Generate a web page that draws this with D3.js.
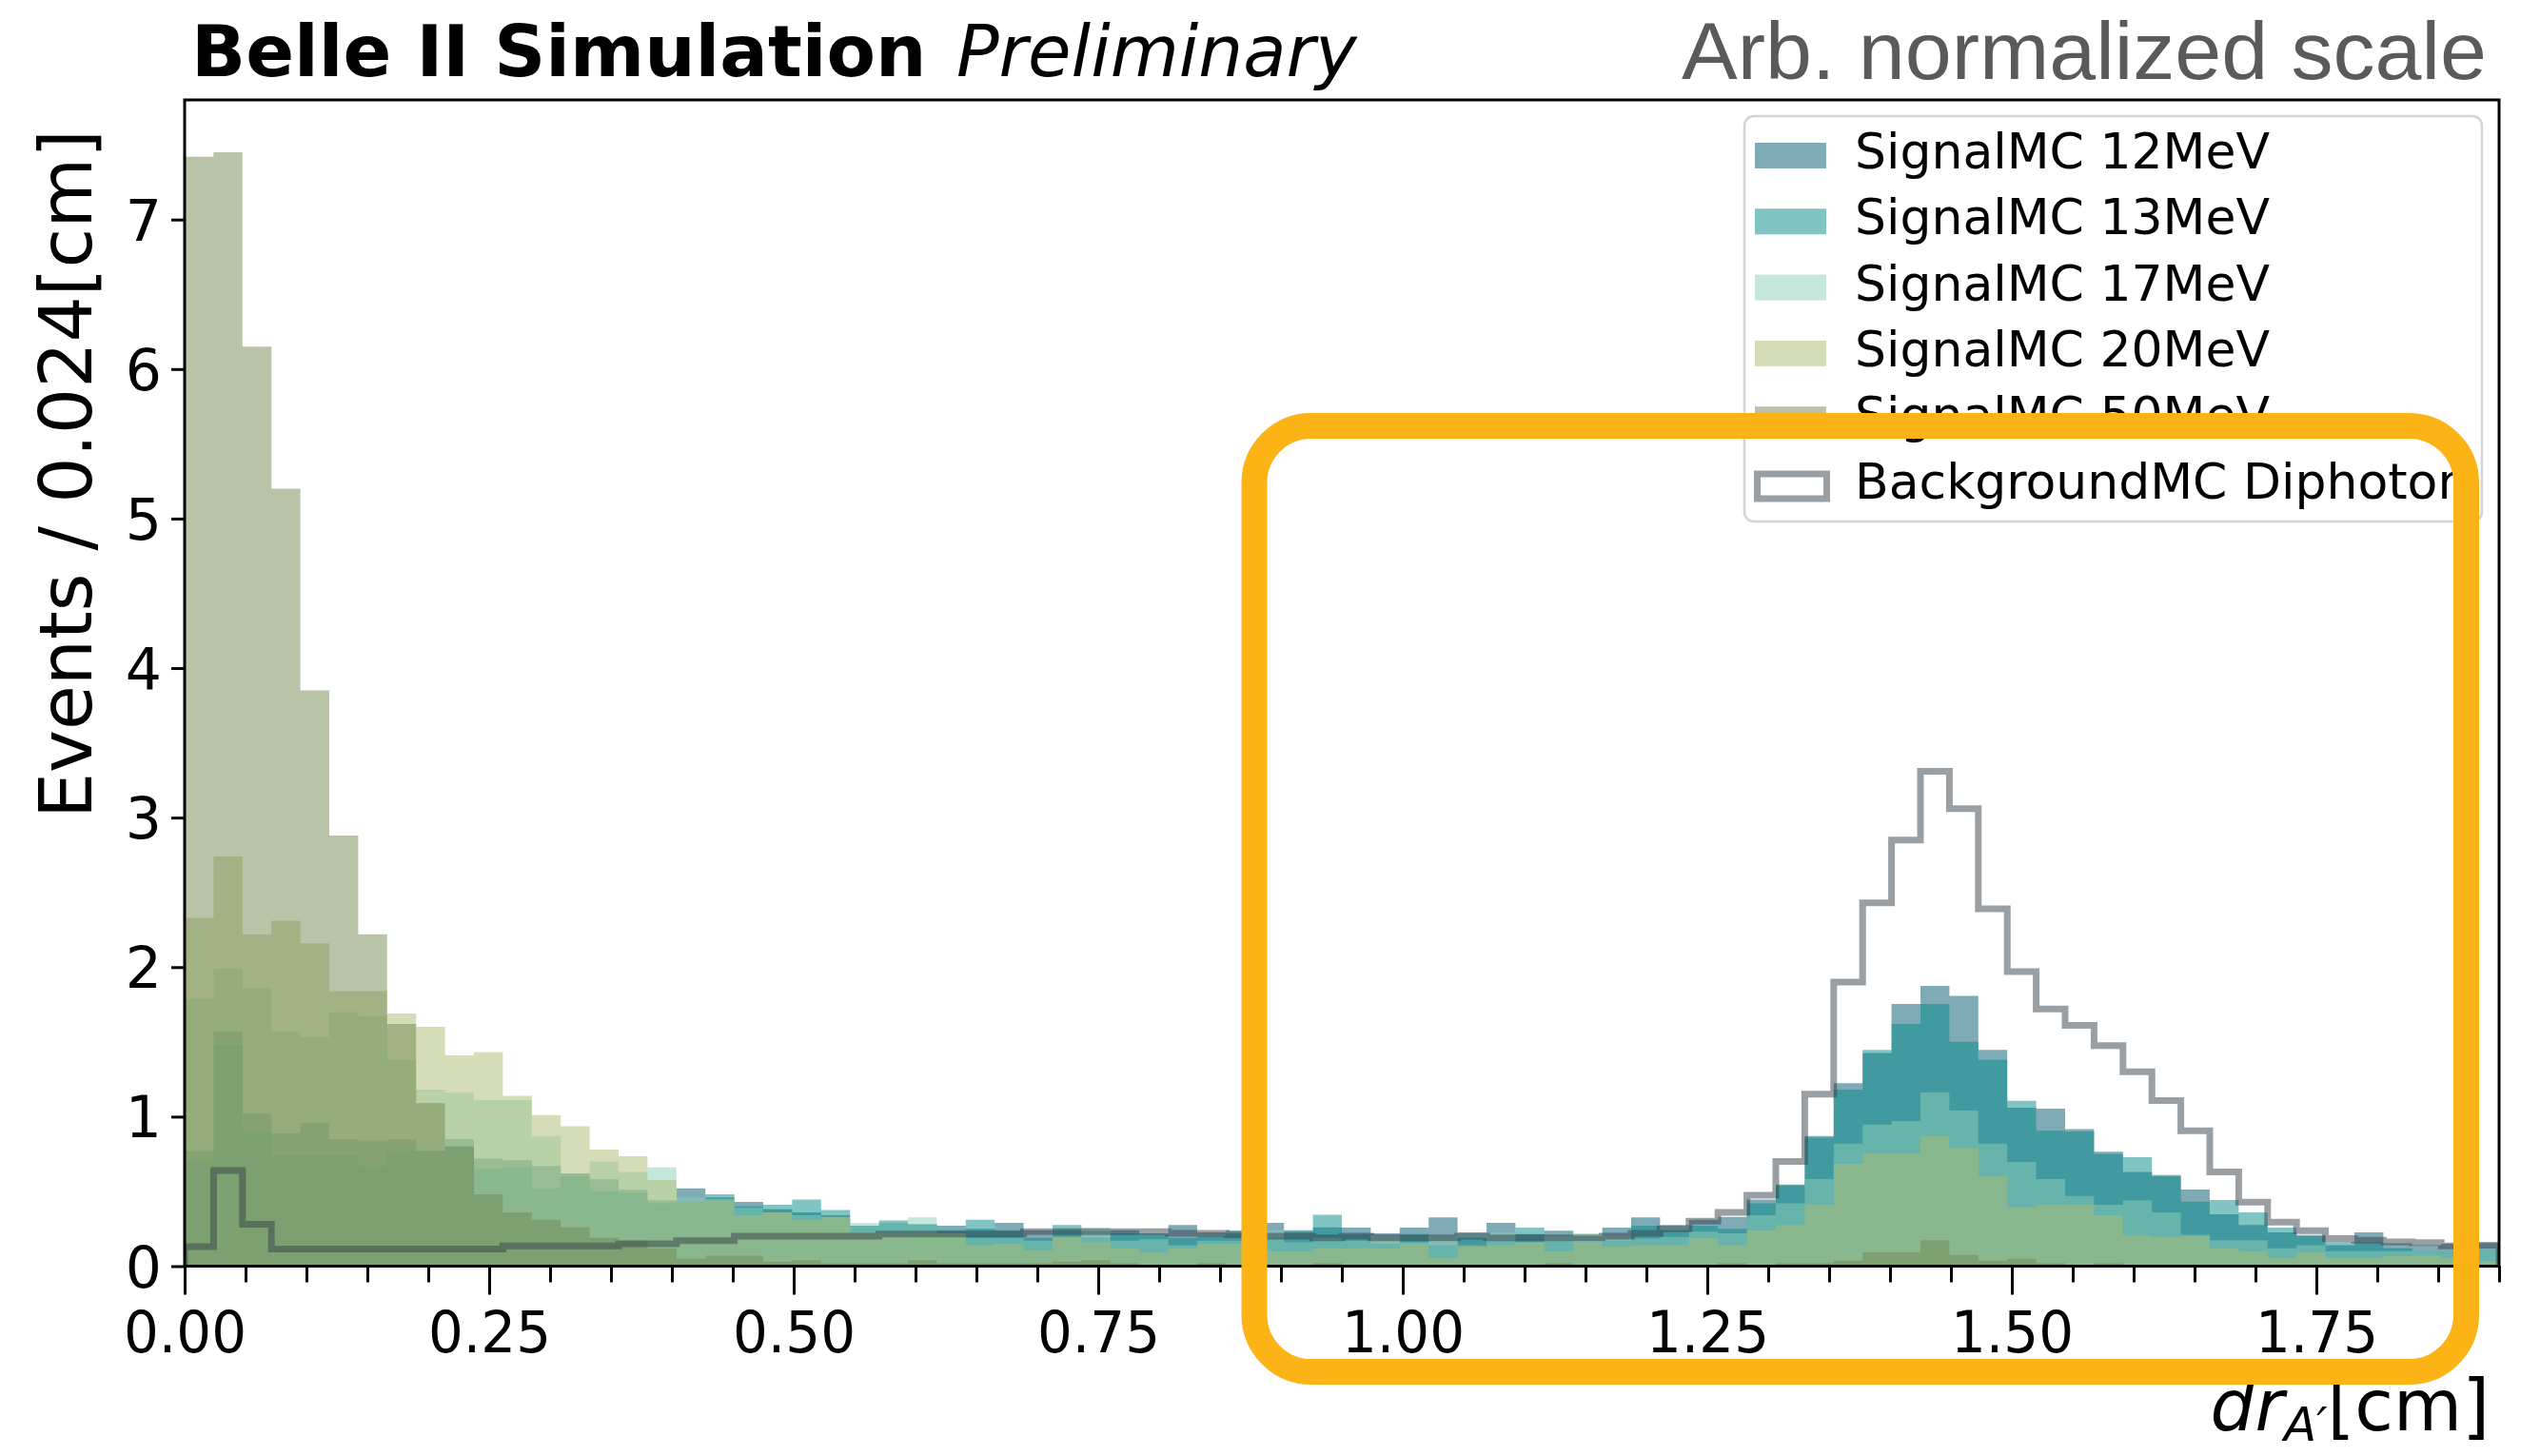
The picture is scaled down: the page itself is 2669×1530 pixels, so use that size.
<!DOCTYPE html>
<html>
<head>
<meta charset="utf-8">
<script src="https://cdn.jsdelivr.net/npm/d3@7"></script>
<style>
  html, body { margin: 0; padding: 0; background: #ffffff; }
  svg { display: block; }
</style>
</head>
<body>
<svg id="chart" width="2669" height="1530"></svg>
<script>
// Binning of the displacement histogram: 80 bins over [0, 1.9] cm
const binLo = 0;
const binHi = 1.9;
const nBins = 80;

// Normalised bin contents, one array per sample (80 bins each)
const sig12 = [
  0.77, 1.57, 1.02, 0.89, 0.96, 0.85, 0.84, 0.85, 0.77, 0.85, 0.72, 0.71, 0.67, 0.62, 0.58, 0.51, 0.44,
  0.52, 0.46, 0.43, 0.38, 0.36, 0.34, 0.27, 0.29, 0.28, 0.27, 0.25, 0.29, 0.24, 0.24, 0.235, 0.24, 0.22,
  0.275, 0.226, 0.22, 0.29, 0.24, 0.26, 0.258, 0.22, 0.258, 0.326, 0.19, 0.29, 0.215, 0.237, 0.20, 0.258, 0.326,
  0.24, 0.31, 0.33, 0.446, 0.545, 0.87, 1.224, 1.425, 1.754, 1.875, 1.807, 1.447, 1.06, 1.054, 0.917, 0.765,
  0.63, 0.61, 0.513, 0.347, 0.275, 0.226, 0.209, 0.14, 0.226, 0.152, 0.14, 0.15, 0.155
];
const sig13 = [
  0.70, 1.48, 0.90, 0.74, 0.74, 0.74, 0.67, 0.77, 0.77, 0.80, 0.65, 0.66, 0.52, 0.60, 0.50, 0.49, 0.42,
  0.43, 0.48, 0.40, 0.41, 0.445, 0.375, 0.27, 0.305, 0.28, 0.24, 0.31, 0.24, 0.19, 0.275, 0.19, 0.22, 0.21,
  0.19, 0.20, 0.24, 0.19, 0.23, 0.343, 0.215, 0.15, 0.215, 0.14, 0.226, 0.17, 0.258, 0.17, 0.16, 0.17, 0.27,
  0.276, 0.27, 0.25, 0.42, 0.54, 0.86, 1.18, 1.447, 1.62, 1.754, 1.50, 1.38, 1.106, 0.906, 0.90, 0.75,
  0.729, 0.60, 0.432, 0.443, 0.36, 0.258, 0.20, 0.163, 0.16, 0.12, 0.10, 0.10, 0.11
];
const sig17 = [
  1.79, 1.99, 1.86, 1.57, 1.53, 1.70, 1.67, 1.38, 1.18, 1.16, 1.11, 1.11, 0.87, 0.62, 0.70, 0.63, 0.66,
  0.46, 0.45, 0.39, 0.36, 0.34, 0.33, 0.29, 0.29, 0.326, 0.22, 0.19, 0.19, 0.17, 0.195, 0.258, 0.17, 0.18,
  0.14, 0.17, 0.17, 0.24, 0.16, 0.19, 0.17, 0.20, 0.16, 0.205, 0.13, 0.226, 0.16, 0.20, 0.22, 0.20, 0.185,
  0.196, 0.23, 0.22, 0.34, 0.42, 0.583, 0.82, 0.947, 0.97, 1.163, 1.04, 0.82, 0.697, 0.583, 0.47, 0.41,
  0.44, 0.36, 0.21, 0.173, 0.173, 0.12, 0.14, 0.10, 0.10, 0.10, 0.10, 0.10, 0.11
];
const sig20 = [
  2.33, 2.74, 2.22, 2.31, 2.16, 1.84, 1.84, 1.69, 1.60, 1.41, 1.43, 1.14, 1.01, 0.935, 0.78, 0.735, 0.576,
  0.43, 0.44, 0.34, 0.36, 0.31, 0.33, 0.22, 0.215, 0.22, 0.22, 0.14, 0.15, 0.105, 0.195, 0.16, 0.12, 0.09,
  0.12, 0.15, 0.15, 0.10, 0.10, 0.12, 0.12, 0.12, 0.15, 0.056, 0.14, 0.14, 0.16, 0.10, 0.16, 0.13, 0.14,
  0.14, 0.19, 0.14, 0.24, 0.276, 0.41, 0.685, 0.753, 0.753, 0.87, 0.79, 0.60, 0.394, 0.412, 0.41, 0.34,
  0.205, 0.195, 0.20, 0.12, 0.10, 0.056, 0.09, 0.056, 0.056, 0.067, 0.07, 0.056, 0.035
];
const sig50 = [
  7.42, 7.45, 6.15, 5.20, 3.85, 2.88, 2.22, 1.62, 1.09, 0.80, 0.48, 0.36, 0.31, 0.26, 0.19, 0.17, 0.12,
  0.05, 0.07, 0.07, 0.03, 0.04, 0.02, 0.02, 0.02, 0.04, 0.02, 0.02, 0.02, 0.02, 0.03, 0.04, 0.02, 0.01,
  0.01, 0.02, 0.01, 0.01, 0.01, 0.02, 0.01, 0.01, 0.01, 0.01, 0.01, 0.01, 0.01, 0.02, 0.01, 0.01, 0.01,
  0.01, 0.01, 0.02, 0.01, 0.02, 0.02, 0.037, 0.094, 0.094, 0.173, 0.075, 0.037, 0.05, 0.02, 0.01, 0.02,
  0.01, 0.01, 0.01, 0.005, 0.005, 0.005, 0.005, 0.005, 0.005, 0.005, 0.005, 0.005, 0.005
];
const bkgDiphoton = [
  0.13, 0.64, 0.28, 0.115, 0.115, 0.115, 0.115, 0.115, 0.115, 0.115, 0.115, 0.135, 0.135, 0.135, 0.135, 0.15, 0.15,
  0.17, 0.17, 0.20, 0.20, 0.20, 0.20, 0.20, 0.215, 0.215, 0.215, 0.215, 0.215, 0.23, 0.23, 0.23, 0.23, 0.23,
  0.22, 0.22, 0.21, 0.20, 0.20, 0.19, 0.20, 0.19, 0.19, 0.19, 0.20, 0.19, 0.19, 0.19, 0.19, 0.20, 0.22,
  0.25, 0.30, 0.36, 0.474, 0.70, 1.15, 1.90, 2.43, 2.85, 3.31, 3.06, 2.39, 1.97, 1.72, 1.61, 1.475,
  1.30, 1.107, 0.905, 0.63, 0.428, 0.294, 0.237, 0.184, 0.173, 0.162, 0.158, 0.135, 0.14
];

const signalLabels = ["SignalMC 12MeV", "SignalMC 13MeV", "SignalMC 17MeV", "SignalMC 20MeV", "SignalMC 50MeV"];
const backgroundLabel = "BackgroundMC Diphoton";
const xMajorTicks = [0, 0.25, 0.5, 0.75, 1.0, 1.25, 1.5, 1.75];
const yMajorTicks = [0, 1, 2, 3, 4, 5, 6, 7];

// ---- styling ----
const signalColors = ["#00586f", "#028989", "#8bcdb5", "#abbb71", "#718751"];
const fillAlpha = 0.5;
const lineColor = "#363f48";
const lineAlpha = 0.5;
const font = "'DejaVu Sans', Verdana, sans-serif";

const plot = { left: 194, right: 2626, top: 105, bottom: 1330.5 };

const svg = d3.select("#chart");

const x = d3.scaleLinear().domain([binLo, binHi]).range([plot.left, plot.right]);
const y = d3.scaleLinear().domain([0, 7.8]).range([plot.bottom, plot.top]);

const edges = d3.range(nBins + 1).map(i => binLo + i * (binHi - binLo) / nBins);
function stepPoints(vals) {
  const pts = [];
  vals.forEach((v, i) => { pts.push([edges[i], v]); pts.push([edges[i + 1], v]); });
  return pts;
}

svg.append("defs").append("clipPath").attr("id", "plotClip")
  .append("rect")
  .attr("x", plot.left).attr("y", plot.top)
  .attr("width", plot.right - plot.left).attr("height", plot.bottom - plot.top);

const area = d3.area()
  .x(d => x(d[0]))
  .y0(y(0))
  .y1(d => y(d[1]));

const histLayer = svg.append("g").attr("clip-path", "url(#plotClip)");

// filled signal histograms, drawn in legend order with half transparency
[sig12, sig13, sig17, sig20, sig50].forEach((vals, k) => {
  histLayer.append("path")
    .attr("d", area(stepPoints(vals)))
    .attr("fill", signalColors[k])
    .attr("fill-opacity", fillAlpha);
});

// background outline histogram
const line = d3.line().x(d => x(d[0])).y(d => y(d[1]));
const bkgPts = [[binLo, 0], ...stepPoints(bkgDiphoton), [binHi, 0]];
histLayer.append("path")
  .attr("d", line(bkgPts))
  .attr("fill", "none")
  .attr("stroke", lineColor)
  .attr("stroke-opacity", lineAlpha)
  .attr("stroke-width", 7)
  .attr("stroke-linejoin", "miter");

// ---- axes ----
const xMinorTicks = d3.range(0, 1.9001, 0.05).filter(v => !xMajorTicks.some(t => Math.abs(t - v) < 1e-6));

const xMinor = svg.append("g")
  .attr("transform", `translate(0,${plot.bottom})`)
  .call(d3.axisBottom(x).tickValues(xMinorTicks).tickSize(17).tickFormat(""));
xMinor.select(".domain").remove();
xMinor.selectAll(".tick line").attr("stroke", "#000").attr("stroke-width", 3);

const xAxis = svg.append("g")
  .attr("transform", `translate(0,${plot.bottom})`)
  .call(d3.axisBottom(x).tickValues(xMajorTicks).tickSize(30).tickFormat(d3.format(".2f")));
xAxis.select(".domain").remove();
xAxis.selectAll(".tick line").attr("stroke", "#000").attr("stroke-width", 3);
xAxis.selectAll(".tick text")
  .attr("y", 91).attr("dy", 0)
  .attr("transform", "scale(0.95,1)")
  .attr("fill", "#000")
  .style("font-family", font).style("font-size", "61px");

const yAxis = svg.append("g")
  .attr("transform", `translate(${plot.left},0)`)
  .call(d3.axisLeft(y).tickValues(yMajorTicks).tickSize(14).tickPadding(10).tickFormat(d3.format("d")));
yAxis.select(".domain").remove();
yAxis.selectAll(".tick line").attr("stroke", "#000").attr("stroke-width", 3);
yAxis.selectAll(".tick text")
  .attr("dy", "0.36em")
  .attr("fill", "#000")
  .style("font-family", font).style("font-size", "60px");

// frame
svg.append("rect")
  .attr("x", plot.left).attr("y", plot.top)
  .attr("width", plot.right - plot.left).attr("height", plot.bottom - plot.top)
  .attr("fill", "none").attr("stroke", "#000").attr("stroke-width", 3);

// ---- axis titles ----
svg.append("text")
  .attr("transform", `translate(96,136) rotate(-90)`)
  .attr("text-anchor", "end")
  .style("font-family", font).style("font-size", "76px")
  .attr("fill", "#000")
  .text("Events / 0.024[cm]");

const xl = svg.append("text")
  .attr("x", 2616).attr("y", 1503)
  .attr("text-anchor", "end")
  .style("font-family", font).style("font-size", "74px")
  .attr("fill", "#000");
xl.append("tspan").style("font-style", "italic").text("dr");
xl.append("tspan").style("font-style", "italic").style("font-size", "50px").attr("dy", 11).text("A\u2032");
xl.append("tspan").attr("dy", -11).text("[cm]");

// ---- header ----
svg.append("text")
  .attr("x", 201).attr("y", 80)
  .style("font-family", font).style("font-size", "75px").style("font-weight", "bold")
  .attr("fill", "#000")
  .text("Belle II Simulation");
svg.append("text")
  .attr("x", 1005).attr("y", 80)
  .style("font-family", font).style("font-size", "74px").style("font-style", "italic")
  .attr("fill", "#000")
  .text("Preliminary");

svg.append("text")
  .attr("x", 2613).attr("y", 83)
  .attr("text-anchor", "end")
  .style("font-family", "'Liberation Sans', Arial, Helvetica, sans-serif").style("font-size", "86px")
  .attr("textLength", 846).attr("lengthAdjust", "spacingAndGlyphs")
  .attr("fill", "#5a5a5a")
  .text("Arb. normalized scale");

// ---- legend ----
const lg = svg.append("g");
lg.append("rect")
  .attr("x", 1833).attr("y", 122).attr("width", 775).attr("height", 426)
  .attr("rx", 10).attr("ry", 10)
  .attr("fill", "#fff").attr("fill-opacity", 0.8)
  .attr("stroke", "#d4d4d4").attr("stroke-width", 2.5);

const rowGap = 69.3;
signalLabels.forEach((label, k) => {
  lg.append("rect")
    .attr("x", 1844).attr("y", 150 + k * rowGap).attr("width", 75).attr("height", 27)
    .attr("fill", signalColors[k]).attr("fill-opacity", fillAlpha);
  lg.append("text")
    .attr("x", 1949).attr("y", 177 + k * rowGap)
    .style("font-family", font).style("font-size", "52px")
    .attr("fill", "#000")
    .text(label);
});
lg.append("rect")
  .attr("x", 1846.5).attr("y", 150 + 5 * rowGap + 1.5).attr("width", 73).attr("height", 26)
  .attr("fill", "none")
  .attr("stroke", lineColor).attr("stroke-opacity", lineAlpha).attr("stroke-width", 7);
lg.append("text")
  .attr("x", 1949).attr("y", 177 + 5 * rowGap)
  .style("font-family", font).style("font-size", "52px")
  .attr("fill", "#000")
  .text(backgroundLabel);

// ---- highlight box around the displaced-vertex region ----
svg.append("rect")
  .attr("x", 1318).attr("y", 447.5).attr("width", 1273.5).attr("height", 994)
  .attr("rx", 60).attr("ry", 60)
  .attr("fill", "none")
  .attr("stroke", "#fcb316").attr("stroke-width", 27);
</script>
</body>
</html>
